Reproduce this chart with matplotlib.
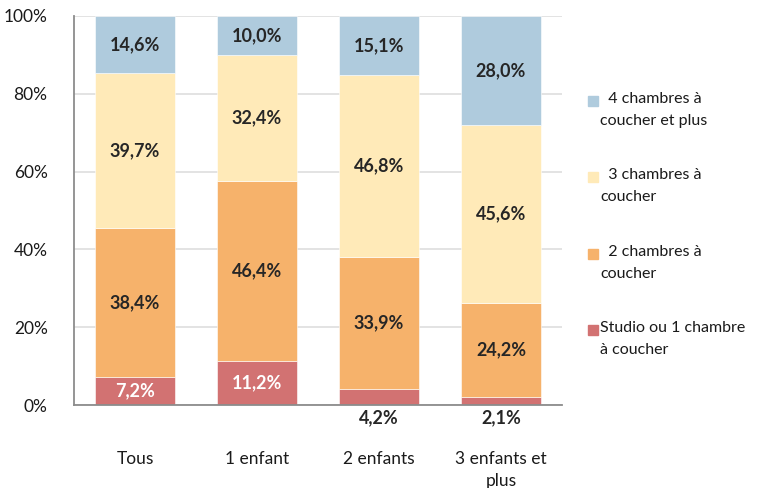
import matplotlib.pyplot as plt
import matplotlib.patches as mpatches
import numpy as np

plt.rcParams['font.family'] = ['Lato', 'DejaVu Sans']

categories = ['Tous', '1 enfant', '2 enfants', '3 enfants et\nplus']
series_names = ['Studio ou 1 chambre\nà coucher', '  2 chambres à\ncoucher',
                '  3 chambres à\ncoucher', '  4 chambres à\ncoucher et plus']
studio = [7.2, 11.2, 4.2, 2.1]
ch2 = [38.4, 46.4, 33.9, 24.2]
ch3 = [39.7, 32.4, 46.8, 45.6]
ch4 = [14.6, 10.0, 15.1, 28.0]
colors = ['#d27272', '#f6b26b', '#ffeab8', '#afcbdd']
label_colors = ['white', '#262626', '#262626', '#262626']

data = np.array([studio, ch2, ch3, ch4])
x = np.arange(len(categories))

fig = plt.figure(figsize=(7.6, 4.88), dpi=100)
ax = fig.add_axes([74 / 760, 1 - 405 / 488, (562 - 74) / 760, (405 - 16) / 488])

bottom = np.zeros(len(categories))
for i, vals in enumerate(data):
    ax.bar(x, vals, width=0.65, bottom=bottom, color=colors[i],
           edgecolor='white', linewidth=0.4, zorder=2)
    for j, v in enumerate(vals):
        txt = f"{v:.1f}%".replace('.', ',')
        if i == 0 and v < 5:
            # small values are written under the axis
            ax.text(x[j], -1.0, txt, ha='center', va='top', fontsize=13,
                    fontweight='bold', color='#262626', clip_on=False)
        else:
            ax.text(x[j], bottom[j] + v / 2, txt, ha='center', va='center',
                    fontsize=13, fontweight='bold', color=label_colors[i])
    bottom += vals

ax.set_xlim(-0.5, 3.5)
ax.set_ylim(0, 100)
ax.set_yticks([0, 20, 40, 60, 80, 100])
ax.set_yticklabels([f"{t}%" for t in range(0, 101, 20)])
ax.set_xticks(x)
ax.set_xticklabels(categories)
for lbl in ax.get_xticklabels():
    lbl.set_linespacing(1.45)
ax.tick_params(axis='both', length=0, labelsize=12.5, colors='#1a1a1a')
ax.tick_params(axis='y', pad=19)
ax.tick_params(axis='x', pad=33)
ax.grid(axis='y', color='#dedede', linewidth=1.2, zorder=0)
ax.set_axisbelow(True)
for s in ['top', 'right']:
    ax.spines[s].set_visible(False)
for s in ['left', 'bottom']:
    ax.spines[s].set_color('#8c8c8c')
    ax.spines[s].set_linewidth(1.3)

# legend drawn by hand, top item first
leg_y = [101, 177, 254, 330]
for k, idx in enumerate([3, 2, 1, 0]):
    y0 = leg_y[k]
    fig.patches.append(mpatches.Rectangle((588 / 760, 1 - (y0 + 5) / 488), 10 / 760, 10 / 488,
                                          transform=fig.transFigure, color=colors[idx]))
    fig.text(600 / 760, 1 - (y0 - 9) / 488, series_names[idx], ha='left', va='top',
             fontsize=11.5, color='#1a1a1a', linespacing=1.7)

fig.savefig('out.png', dpi=100)
